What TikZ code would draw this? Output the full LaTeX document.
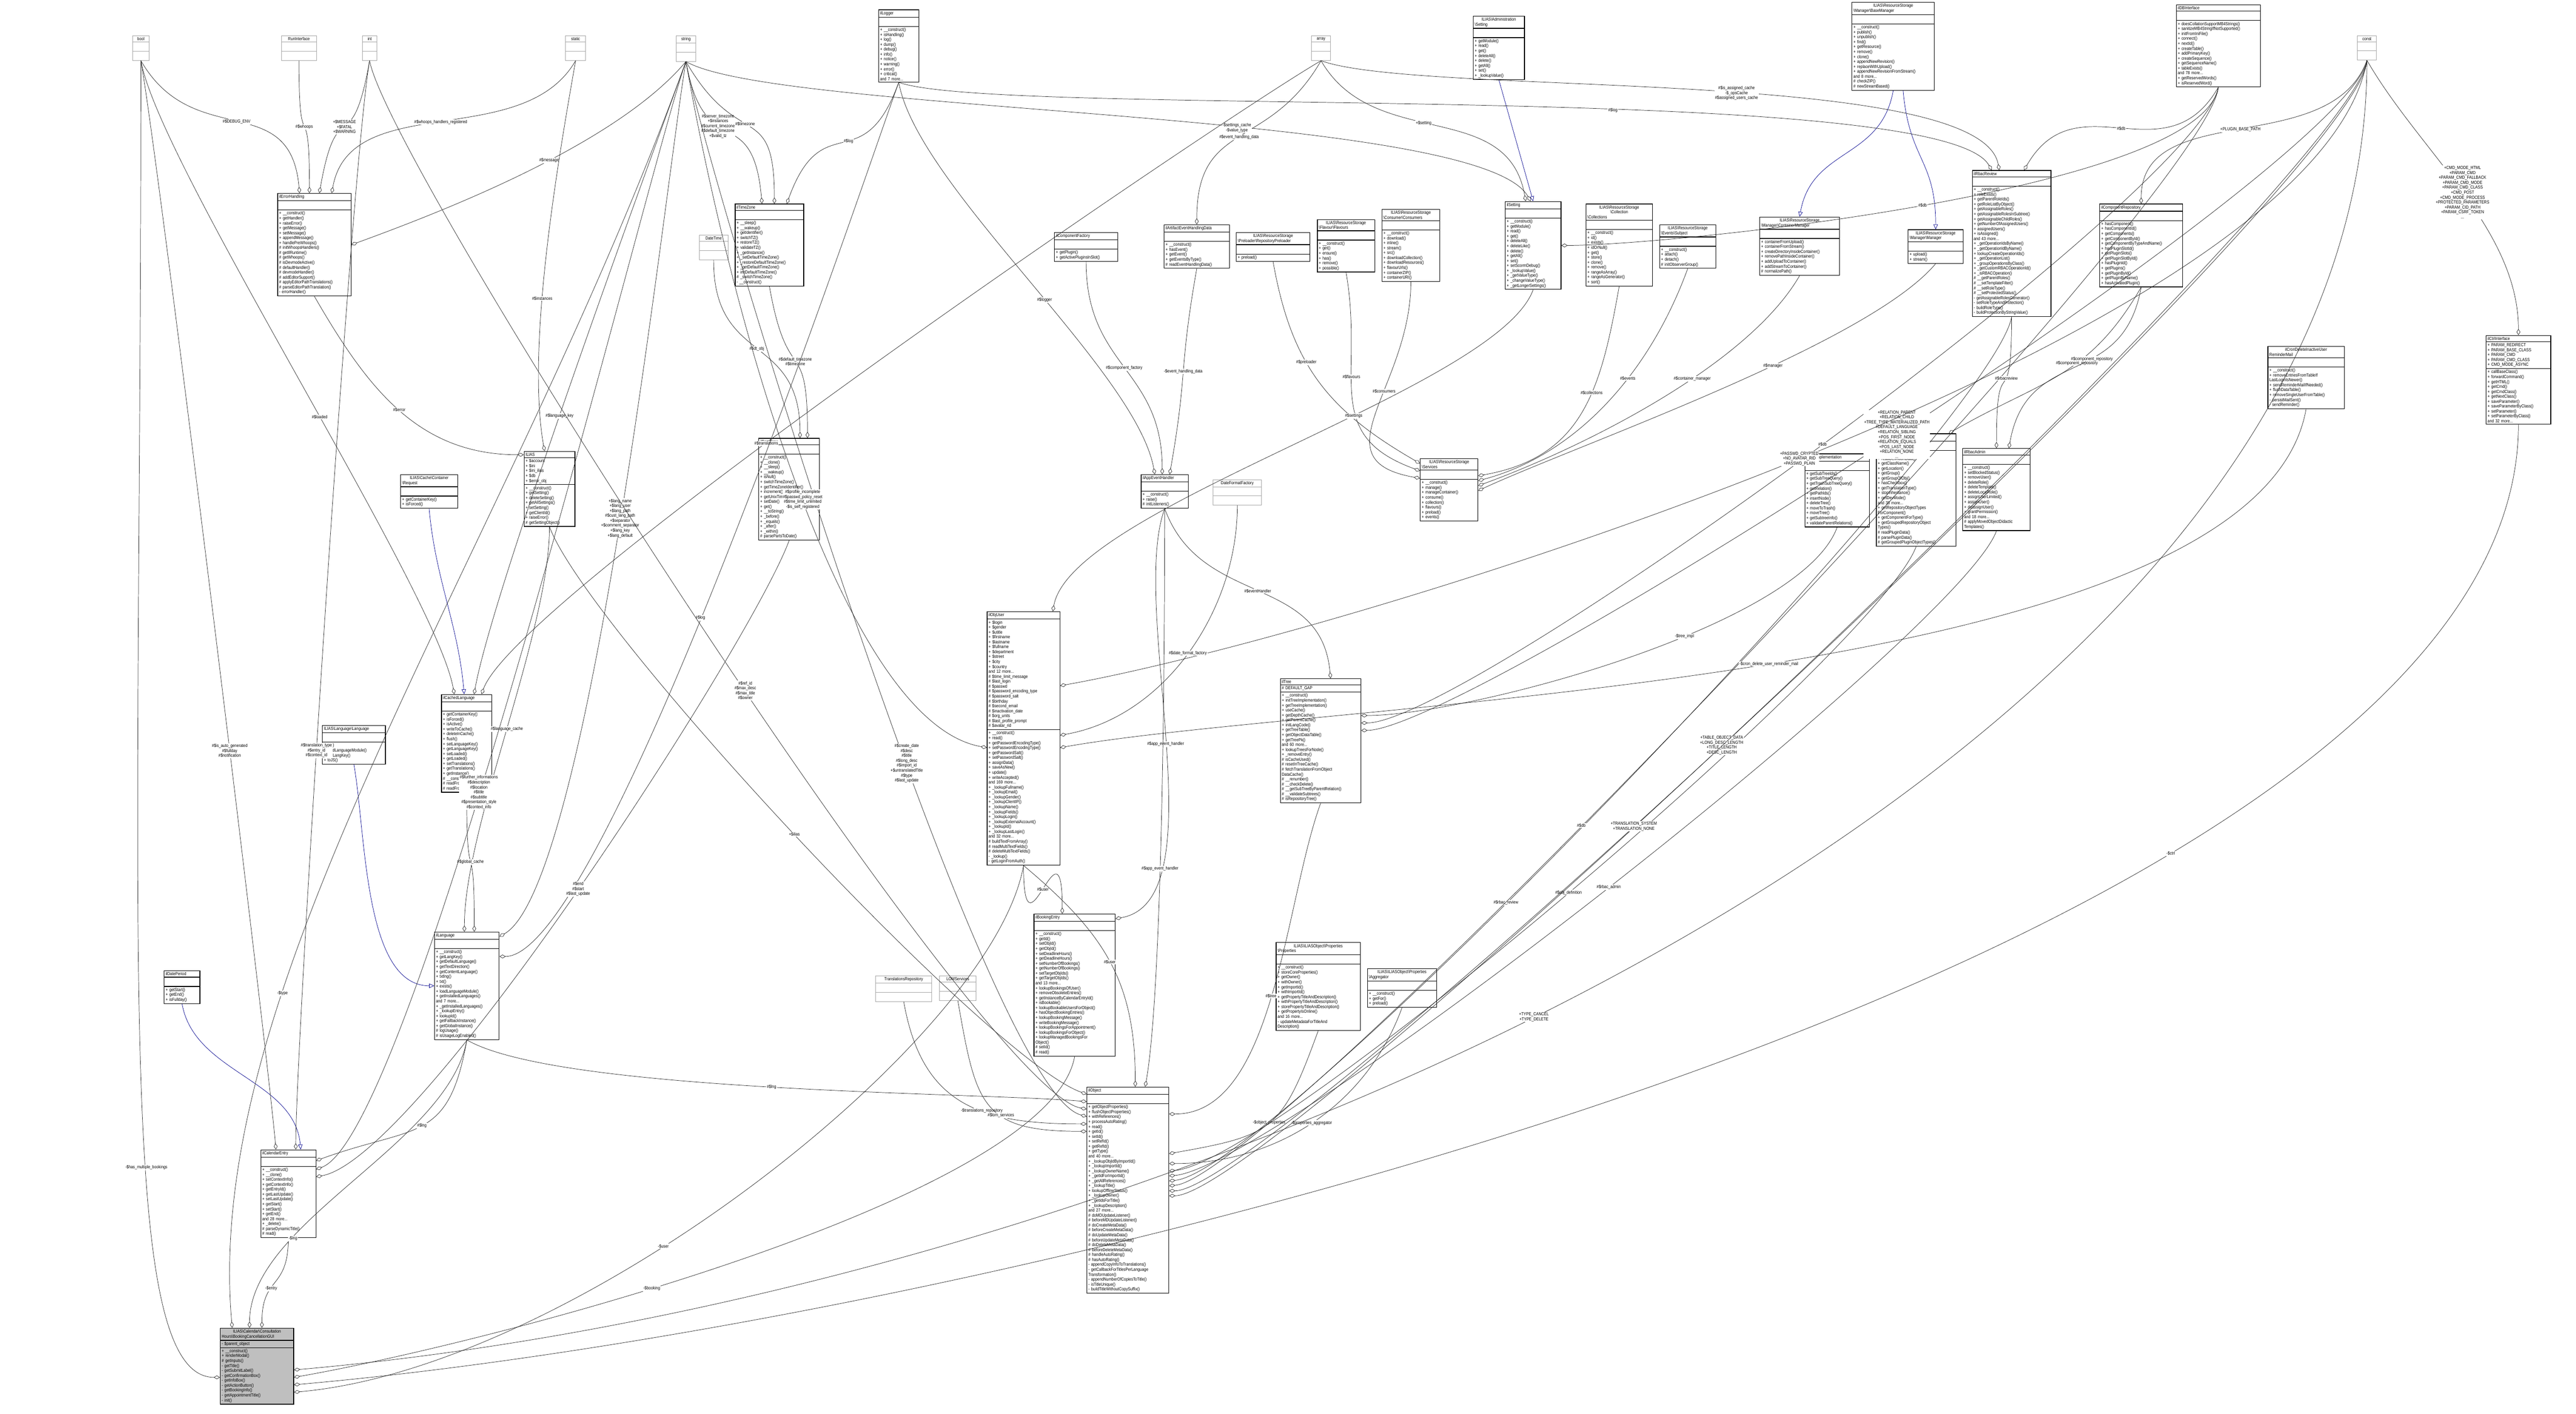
\documentclass[tikz,border=0pt]{standalone}
\usepackage{fontspec}
\setmainfont{Liberation Sans}[FakeStretch=0.85]
\usetikzlibrary{shapes.multipart,arrows.meta}
\newcommand\BS{\textbackslash}
\tikzset{
  cls/.style={rectangle split, rectangle split parts=3, draw=black, line width=0.5pt,
    anchor=north west, align=left, inner xsep=1.2pt, inner ysep=1pt,
    font=\fontsize{3.6}{3.98}\selectfont, fill=white},
  main/.style={cls, fill=black!25},
  typ/.style={rectangle split, rectangle split parts=3, draw=black!35, line width=0.4pt,
    anchor=north west, align=center, inner xsep=1pt, inner ysep=1pt,
    font=\fontsize{3.6}{3.98}\selectfont},
  agg/.style={draw=black!85, line width=0.3pt, -{Diamond[open,length=5pt,width=3pt]}, out distance=3cm, in distance=3cm},
  inh/.style={draw=blue!55!black, line width=0.3pt, -{Triangle[open,length=4pt,width=3.5pt]}, out distance=2cm, in distance=2cm},
  lbl/.style={font=\fontsize{3.6}{3.98}\selectfont, align=center, fill=white, inner sep=0.5pt}
}
\newcommand\E{\rule{0pt}{5pt}}
\begin{document}
\begin{tikzpicture}
\useasboundingbox (0,0) rectangle (73.09,-40.12);
% ---------- type boxes ----------
\node[typ, text width=0.41cm] (bool) at (3.75,-1.01) {bool\nodepart{second}\E\nodepart{third}\E};
\node[typ, text width=0.92cm] (run) at (7.98,-1.01) {RunInterface\nodepart{second}\E\nodepart{third}\E};
\node[typ, text width=0.35cm] (int) at (10.27,-1.01) {int\nodepart{second}\E\nodepart{third}\E};
\node[typ, text width=0.50cm] (static) at (16.04,-1.01) {static\nodepart{second}\E\nodepart{third}\E};
\node[typ, text width=0.48cm] (string) at (19.18,-1.01) {string\nodepart{second}\E\nodepart{third}\E};
\node[typ, text width=0.48cm] (array) at (37.20,-1.01) {array\nodepart{second}\E\nodepart{third}\E};
\node[typ, text width=0.47cm] (const) at (66.88,-1.01) {const\nodepart{second}\E\nodepart{third}\E};
\node[typ, text width=0.75cm] (dt) at (19.83,-6.67) {DateTime\nodepart{second}\E\nodepart{third}\E};
\node[typ, text width=1.31cm] (dff) at (34.41,-13.61) {DateFormatFactory\nodepart{second}\E\nodepart{third}\E};
\node[typ, text width=1.52cm] (trr) at (24.84,-27.69) {TranslationsRepository\nodepart{second}\E\nodepart{third}\E};
\node[typ, text width=0.97cm] (lom) at (26.65,-27.69) {LOMServices\nodepart{second}\E\nodepart{third}\E};
% ---------- classes ----------
\node[cls, text width=2.0cm] (err) at (7.87,-5.48) {\centering ilErrorHandling\nodepart{second}\E\nodepart{third}+ \_\_construct()\\+ getHandler()\\+ raiseError()\\+ getMessage()\\+ setMessage()\\+ appendMessage()\\+ handlePreWhoops()\\\# initWhoopsHandlers()\\\# getIlRuntime()\\\# getWhoops()\\\# isDevmodeActive()\\\# defaultHandler()\\\# devmodeHandler()\\\# addEditorSupport()\\\# applyEditorPathTranslations()\\\# parseEditorPathTranslation()\\- errorHandler()};
\node[cls, text width=1.86cm] (tz) at (20.85,-5.78) {\centering ilTimeZone\nodepart{second}\E\nodepart{third}+ \_\_sleep()\\+ \_\_wakeup()\\+ getIdentifier()\\+ switchTZ()\\+ restoreTZ()\\+ validateTZ()\\+ \_getInstance()\\+ \_setDefaultTimeZone()\\+ \_restoreDefaultTimeZone()\\+ \_getDefaultTimeZone()\\+ initDefaultTimeZone()\\\# \_switchTimeZone()\\- \_\_construct()};
\node[cls, text width=1.06cm] (logger) at (24.92,-0.27) {\centering ilLogger\nodepart{second}\E\nodepart{third}+ \_\_construct()\\+ isHandling()\\+ log()\\+ dump()\\+ debug()\\+ info()\\+ notice()\\+ warning()\\+ error()\\+ critical()\\and 7 more...};
\node[cls, text width=1.37cm] (admset) at (41.79,-0.45) {\centering ILIAS\BS Administration\\\BS Setting\nodepart{second}\E\nodepart{third}+ getModule()\\+ read()\\+ get()\\+ deleteAll()\\+ delete()\\+ getAll()\\+ set()\\+ \_lookupValue()};
\node[cls, text width=1.71cm] (cfac) at (29.91,-6.59) {\centering ilComponentFactory\nodepart{second}\E\nodepart{third}+ getPlugin()\\+ getActivePluginsInSlot()};
\node[cls, text width=1.77cm] (aehd) at (33.02,-6.37) {\centering ilArtifactEventHandlingData\nodepart{second}\E\nodepart{third}+ \_\_construct()\\+ hasEvent()\\+ getEvent()\\+ getEventsByType()\\\# readEventHandlingData()};
\node[cls, text width=2.0cm] (prel) at (35.07,-6.59) {\centering ILIAS\BS ResourceStorage\\\BS Preloader\BS RepositoryPreloader\nodepart{second}\E\nodepart{third}+ preload()};
\node[cls, text width=1.54cm] (flav) at (37.37,-6.22) {\centering ILIAS\BS ResourceStorage\\\BS Flavour\BS Flavours\nodepart{second}\E\nodepart{third}+ \_\_construct()\\+ get()\\+ ensure()\\+ has()\\+ remove()\\+ possible()};
\node[cls, text width=1.56cm] (cons) at (39.20,-5.93) {\centering ILIAS\BS ResourceStorage\\\BS Consumer\BS Consumers\nodepart{second}\E\nodepart{third}+ \_\_construct()\\+ download()\\+ inline()\\+ stream()\\+ src()\\+ downloadCollection()\\+ downloadResources()\\+ flavourUrls()\\+ containerZIP()\\+ containerURI()};
\node[cls, text width=1.50cm] (set) at (42.70,-5.71) {\centering ilSetting\nodepart{second}\E\nodepart{third}+ \_\_construct()\\+ getModule()\\+ read()\\+ get()\\+ deleteAll()\\+ deleteLike()\\+ delete()\\+ getAll()\\+ set()\\+ setScormDebug()\\+ \_lookupValue()\\+ \_getValueType()\\+ \_changeValueType()\\+ \_getLongerSettings()};
\node[cls, text width=1.80cm] (coll) at (44.99,-5.78) {\centering ILIAS\BS ResourceStorage\\\BS Collection\\\BS Collections\nodepart{second}\E\nodepart{third}+ \_\_construct()\\+ id()\\+ exists()\\+ idOrNull()\\+ get()\\+ store()\\+ clone()\\+ remove()\\+ rangeAsArray()\\+ rangeAsGenerator()\\+ sort()};
\node[cls, text width=1.51cm] (subj) at (47.08,-6.37) {\centering ILIAS\BS ResourceStorage\\\BS Events\BS Subject\nodepart{second}\E\nodepart{third}+ \_\_construct()\\+ attach()\\+ detach()\\\# initObserverGroup()};
\node[cls, text width=2.25cm] (base) at (52.54,-0.06) {\centering ILIAS\BS ResourceStorage\\\BS Manager\BS BaseManager\nodepart{second}\E\nodepart{third}+ \_\_construct()\\+ publish()\\+ unpublish()\\+ find()\\+ getResource()\\+ remove()\\+ clone()\\+ appendNewRevision()\\+ replaceWithUpload()\\+ appendNewRevisionFromStream()\\and 8 more...\\\# checkZIP()\\\# newStreamBased()};
\node[cls, text width=2.30cm] (db) at (61.74,-0.13) {\centering ilDBInterface\nodepart{second}\E\nodepart{third}+ doesCollationSupportMB4Strings()\\+ sanitizeMB4StringIfNotSupported()\\+ initFromIniFile()\\+ connect()\\+ nextId()\\+ createTable()\\+ addPrimaryKey()\\+ createSequence()\\+ getSequenceName()\\+ tableExists()\\and 78 more...\\+ getReservedWords()\\+ isReservedWord()};
\node[cls, text width=2.15cm] (rrev) at (55.95,-4.83) {\centering ilRbacReview\nodepart{second}\E\nodepart{third}+ \_\_construct()\\+ roleExists()\\+ getParentRoleIds()\\+ getRoleListByObject()\\+ getAssignableRoles()\\+ getAssignableRolesInSubtree()\\+ getAssignableChildRoles()\\+ getNumberOfAssignedUsers()\\+ assignedUsers()\\+ isAssigned()\\and 43 more...\\+ \_getOperationIdsByName()\\+ \_getOperationIdByName()\\+ lookupCreateOperationIds()\\+ \_getOperationList()\\+ \_groupOperationsByClass()\\+ \_getCustomRBACOperationId()\\+ \_isRBACOperation()\\\# \_\_getParentRoles()\\\# \_\_setTemplateFilter()\\\# \_\_setRoleType()\\\# \_\_setProtectedStatus()\\- getAssignableRolesGenerator()\\- setRoleTypeAndProtection()\\- buildRoleType()\\- buildProtectionByStringValue()};
\node[cls, text width=2.26cm] (crep) at (59.57,-5.78) {\centering ilComponentRepository\nodepart{second}\E\nodepart{third}+ hasComponent()\\+ hasComponentId()\\+ getComponents()\\+ getComponentById()\\+ getComponentByTypeAndName()\\+ hasPluginSlotId()\\+ getPluginSlots()\\+ getPluginSlotById()\\+ hasPluginId()\\+ getPlugins()\\+ getPluginById()\\+ getPluginByName()\\+ hasActivatedPlugin()};
\node[cls, text width=2.18cm] (cman) at (49.92,-6.15) {\centering ILIAS\BS ResourceStorage\\\BS Manager\BS ContainerManager\nodepart{second}\E\nodepart{third}+ containerFromUpload()\\+ containerFromStream()\\+ createDirectoryInsideContainer()\\+ removePathInsideContainer()\\+ addUploadToContainer()\\+ addStreamToContainer()\\\# normalizePath()};
\node[cls, text width=1.48cm] (man) at (54.13,-6.51) {\centering ILIAS\BS ResourceStorage\\\BS Manager\BS Manager\nodepart{second}\E\nodepart{third}+ upload()\\+ stream()};
\node[cls, text width=1.75cm] (ctrl) at (70.53,-9.51) {\centering ilCtrlInterface\nodepart{second}+ PARAM\_REDIRECT\\+ PARAM\_BASE\_CLASS\\+ PARAM\_CMD\\+ PARAM\_CMD\_CLASS\\+ CMD\_MODE\_ASYNC\nodepart{third}+ callBaseClass()\\+ forwardCommand()\\+ getHTML()\\+ getCmd()\\+ getCmdClass()\\+ getNextClass()\\+ saveParameter()\\+ saveParameterByClass()\\+ setParameter()\\+ setParameterByClass()\\and 32 more...};
\node[cls, text width=2.08cm] (rem) at (64.34,-9.82) {\centering ilCronDeleteInactiveUser\\ReminderMail\nodepart{second}\E\nodepart{third}+ \_\_construct()\\+ removeEntriesFromTableIf\\LastLoginIsNewer()\\+ sendReminderMailIfNeeded()\\+ flushDataTable()\\+ removeSingleUserFromTable()\\- persistMailSent()\\- sendReminder()};
\node[cls, text width=1.75cm] (timpl) at (51.20,-12.87) {\centering ilTreeImplementation\nodepart{second}\E\nodepart{third}+ getSubTreeIds()\\+ getSubTreeQuery()\\+ getTrashSubTreeQuery()\\+ getRelation()\\+ getPathIds()\\+ insertNode()\\+ deleteTree()\\+ moveToTrash()\\+ moveTree()\\+ getSubtreeInfo()\\+ validateParentRelations()};
\node[cls, text width=2.17cm] (odef) at (53.23,-12.30) {\centering ilObjectDefinition\nodepart{second}\E\nodepart{third}+ \_\_construct()\\+ readDefinitionData()\\+ getClassName()\\+ getLocation()\\+ getGroup()\\+ getGroupOfObj()\\+ hasCheckbox()\\+ getTranslationType()\\+ stopInheritance()\\+ getDevMode()\\and 38 more...\\+ getRepositoryObjectTypes\\ForComponent()\\+ getComponentForType()\\+ getGroupedRepositoryObject\\Types()\\\# readPluginData()\\\# parsePluginData()\\\# getGroupedPluginObjectTypes()};
\node[cls, text width=1.83cm] (radm) at (55.68,-12.72) {\centering ilRbacAdmin\nodepart{second}\E\nodepart{third}+ \_\_construct()\\+ setBlockedStatus()\\+ removeUser()\\+ deleteRole()\\+ deleteTemplate()\\+ deleteLocalRole()\\+ assignUserLimited()\\+ assignUser()\\+ deassignUser()\\+ grantPermission()\\and 18 more...\\\# applyMovedObjectDidactic\\Templates()};
\node[cls, text width=1.36cm] (ias) at (14.86,-12.80) {\centering ILIAS\nodepart{second}+ \$account\\+ \$ini\\+ \$ini\_ilias\\+ \$db\\+ \$error\_obj\nodepart{third}+ \_\_construct()\\+ getSetting()\\+ deleteSetting()\\+ getAllSettings()\\+ setSetting()\\+ getClientId()\\+ raiseError()\\\# getSettingObject()};
\node[cls, text width=1.53cm] (req) at (11.36,-13.46) {\centering ILIAS\BS Cache\BS Container\\\BS Request\nodepart{second}\E\nodepart{third}+ getContainerKey()\\+ isForced()};
\node[cls, text width=1.34cm] (cl) at (12.52,-19.70) {\centering ilCachedLanguage\nodepart{second}\E\nodepart{third}+ getContainerKey()\\+ isForced()\\+ isActive()\\+ writeToCache()\\+ deleteInCache()\\+ flush()\\+ setLanguageKey()\\+ getLanguageKey()\\+ setLoaded()\\+ getLoaded()\\+ setTranslations()\\+ getTranslations()\\+ getInstance()\\\# \_\_construct()\\\# readFromCache()\\\# readFromDB()};
\node[cls, text width=1.70cm] (llang) at (9.14,-20.58) {\centering ILIAS\BS Language\BS Language\nodepart{second}\E\nodepart{third}+ txt()\\+ loadLanguageModule()\\+ getLangKey()\\+ toJS()};
\node[cls, text width=1.64cm] (idt) at (21.52,-12.43) {\centering ilDateTime\nodepart{second}\E\nodepart{third}+ \_\_construct()\\+ \_\_clone()\\+ \_\_sleep()\\+ \_\_wakeup()\\+ isNull()\\+ switchTimeZone()\\+ getTimeZoneIdentifier()\\+ increment()\\+ getUnixTime()\\+ setDate()\\+ get()\\+ \_\_toString()\\+ \_before()\\+ \_equals()\\+ \_after()\\+ \_within()\\\# parsePartsToDate()};
\node[cls, text width=1.25cm] (aeh) at (32.37,-13.46) {\centering ilAppEventHandler\nodepart{second}\E\nodepart{third}+ \_\_construct()\\+ raise()\\\# initListeners()};
\node[cls, text width=1.55cm] (serv) at (40.29,-13.01) {\centering ILIAS\BS ResourceStorage\\\BS Services\nodepart{second}\E\nodepart{third}+ \_\_construct()\\+ manage()\\+ manageContainer()\\+ consume()\\+ collection()\\+ flavours()\\+ preload()\\+ events()};
\node[cls, text width=1.98cm] (user) at (28.00,-17.35) {\centering ilObjUser\nodepart{second}+ \$login\\+ \$gender\\+ \$utitle\\+ \$firstname\\+ \$lastname\\+ \$fullname\\+ \$department\\+ \$street\\+ \$city\\+ \$country\\and 12 more...\\\# \$time\_limit\_message\\\# \$last\_login\\\# \$passwd\\\# \$password\_encoding\_type\\\# \$password\_salt\\\# \$birthday\\\# \$second\_email\\\# \$inactivation\_date\\\# \$org\_units\\\# \$last\_profile\_prompt\\\# \$avatar\_rid\nodepart{third}+ \_\_construct()\\+ read()\\+ getPasswordEncodingType()\\+ setPasswordEncodingType()\\+ getPasswordSalt()\\+ setPasswordSalt()\\+ assignData()\\+ saveAsNew()\\+ update()\\+ writeAccepted()\\and 169 more...\\+ \_lookupFullname()\\+ \_lookupEmail()\\+ \_lookupGender()\\+ \_lookupClientIP()\\+ \_lookupName()\\+ \_lookupFields()\\+ \_lookupLogin()\\+ \_lookupExternalAccount()\\+ \_lookupId()\\+ \_lookupLastLogin()\\and 32 more...\\\# buildTextFromArray()\\\# readMultiTextFields()\\\# deleteMultiTextFields()\\- \_lookup()\\- getLoginFromAuth()};
\node[cls, text width=2.20cm] (tree) at (36.32,-19.25) {\centering ilTree\nodepart{second}\# DEFAULT\_GAP\nodepart{third}+ \_\_construct()\\+ initTreeImplementation()\\+ getTreeImplementation()\\+ useCache()\\+ getDepthCache()\\+ getParentCache()\\+ initLangCode()\\+ getTreeTable()\\+ getObjectDataTable()\\+ getTreePk()\\and 60 more...\\+ lookupTreesForNode()\\+ \_removeEntry()\\\# isCacheUsed()\\\# resetInTreeCache()\\\# fetchTranslationFromObject\\DataCache()\\\# \_\_renumber()\\\# \_\_checkDelete()\\\# \_\_getSubTreeByParentRelation()\\\# \_\_validateSubtrees()\\\# isRepositoryTree()};
\node[cls, text width=0.93cm] (dper) at (4.65,-27.54) {\centering ilDatePeriod\nodepart{second}\E\nodepart{third}+ getStart()\\+ getEnd()\\+ isFullday()};
\node[cls, text width=1.75cm] (lng) at (12.32,-26.44) {\centering ilLanguage\nodepart{second}\E\nodepart{third}+ \_\_construct()\\+ getLangKey()\\+ getDefaultLanguage()\\+ getTextDirection()\\+ getContentLanguage()\\+ txtlng()\\+ txt()\\+ exists()\\+ loadLanguageModule()\\+ getInstalledLanguages()\\and 7 more...\\+ \_getInstalledLanguages()\\+ \_lookupEntry()\\+ lookupId()\\+ getFallbackInstance()\\+ getGlobalInstance()\\\# logUsage()\\\# isUsageLogEnabled()};
\node[cls, text width=1.48cm] (cal) at (7.39,-32.62) {\centering ilCalendarEntry\nodepart{second}\E\nodepart{third}+ \_\_construct()\\+ \_\_clone()\\+ setContextInfo()\\+ getContextInfo()\\+ getEntryId()\\+ getLastUpdate()\\+ setLastUpdate()\\+ getStart()\\+ setStart()\\+ getEnd()\\and 28 more...\\+ \_delete()\\\# parseDynamicTitle()\\\# read()};
\node[main, text width=2.0cm] (gui) at (6.24,-37.68) {\centering ILIAS\BS Calendar\BS Consultation\\Hours\BS BookingCancellationGUI\nodepart{second}- \$parent\_object\nodepart{third}+ \_\_construct()\\+ renderModal()\\\# getInputs()\\- getTitle()\\- getSubmitLabel()\\- getConfirmationBox()\\- getInfoBox()\\- getActionButton()\\- getBookingInfo()\\- getAppointmentTitle()\\- init()};
\node[cls, text width=2.22cm] (book) at (29.33,-25.93) {\centering ilBookingEntry\nodepart{second}\E\nodepart{third}+ \_\_construct()\\+ getId()\\+ setObjId()\\+ getObjId()\\+ setDeadlineHours()\\+ getDeadlineHours()\\+ setNumberOfBookings()\\+ getNumberOfBookings()\\+ setTargetObjIds()\\+ getTargetObjIds()\\and 13 more...\\+ lookupBookingsOfUser()\\+ removeObsoleteEntries()\\+ getInstanceByCalendarEntryId()\\+ isBookable()\\+ lookupBookableUsersForObject()\\+ hasObjectBookingEntries()\\+ lookupBookingMessage()\\+ writeBookingMessage()\\+ lookupBookingsForAppointment()\\+ lookupBookingsForObject()\\+ lookupManagedBookingsFor\\Object()\\\# setId()\\\# read()};
\node[cls, text width=2.24cm] (obj) at (30.83,-30.84) {\centering ilObject\nodepart{second}\E\nodepart{third}+ getObjectProperties()\\+ flushObjectProperties()\\+ withReferences()\\+ processAutoRating()\\+ read()\\+ getId()\\+ setId()\\+ setRefId()\\+ getRefId()\\+ getType()\\and 40 more...\\+ \_lookupObjIdByImportId()\\+ \_lookupImportId()\\+ \_lookupOwnerName()\\+ \_getIdForImportId()\\+ \_getAllReferences()\\+ \_lookupTitle()\\+ lookupOfflineStatus()\\+ \_lookupOwner()\\+ \_getIdsForTitle()\\+ \_lookupDescription()\\and 27 more...\\\# doMDUpdateListener()\\\# beforeMDUpdateListener()\\\# doCreateMetaData()\\\# beforeCreateMetaData()\\\# doUpdateMetaData()\\\# beforeUpdateMetaData()\\\# doDeleteMetaData()\\\# beforeDeleteMetaData()\\\# handleAutoRating()\\\# hasAutoRating()\\- appendCopyInfoToTranslations()\\- getCallbackForTitlesPerLanguage\\Transformation()\\- appendNumberOfCopiesToTitle()\\- isTitleUnique()\\- buildTitleWithoutCopySuffix()};
\node[cls, text width=2.30cm] (prop) at (36.20,-26.74) {\centering ILIAS\BS ILIASObject\BS Properties\\\BS Properties\nodepart{second}\E\nodepart{third}+ \_\_construct()\\+ storeCoreProperties()\\+ getOwner()\\+ withOwner()\\+ getImportId()\\+ withImportId()\\+ getPropertyTitleAndDescription()\\+ withPropertyTitleAndDescription()\\+ storePropertyTitleAndDescription()\\+ getPropertyIsOnline()\\and 16 more...\\- updateMetadataForTitleAnd\\Description()};
\node[cls, text width=1.88cm] (aggr) at (38.79,-27.48) {\centering ILIAS\BS ILIASObject\BS Properties\\\BS Aggregator\nodepart{second}\E\nodepart{third}+ \_\_construct()\\+ getFor()\\+ preload()};
% ---------- inheritance ----------
\draw[inh] (admset.south) -- (set.north);
\draw[inh] (base.south) to[out=-100,in=80] (cman.north);
\draw[inh] ([xshift=8pt]base.south) to[out=-85,in=90] (man.north);
\draw[inh] (req.south) to[out=-85,in=95] ([xshift=-2pt]cl.north);
\draw[inh] (llang.south) to[out=-80,in=180] (lng.west);
\draw[inh] (dper.south) to[out=-80,in=95] ([xshift=10pt]cal.north);
% ---------- aggregations ----------
\draw[agg] (bool.south) to[out=-60,in=95] node[lbl,pos=.5]{\#\$DEBUG\_ENV} ([xshift=-12pt]err.north);
\draw[agg] (run.south) to[out=-90,in=90] node[lbl,pos=.5]{\#\$whoops} ([xshift=-4pt]err.north);
\draw[agg] (int.south) to[out=-100,in=80] node[lbl,pos=.5]{+\$MESSAGE\\+\$FATAL\\+\$WARNING} ([xshift=4pt]err.north);
\draw[agg] (static.south) to[out=-120,in=80] node[lbl,pos=.5]{\#\$whoops\_handlers\_registered} ([xshift=14pt]err.north);
\draw[agg] (string.south) to[out=-130,in=20] node[lbl,pos=.45]{\#\$message} (err.east);
\draw[agg] (string.south) to[out=-80,in=95] node[lbl,pos=.4]{\#\$server\_timezone\\+\$instances\\\#\$current\_timezone\\\#\$default\_timezone\\+\$valid\_tz} ([xshift=-6pt]tz.north);
\draw[agg] (string.south) to[out=-60,in=90] node[lbl,pos=.45]{\#\$timezone} ([xshift=4pt]tz.north);
\draw[agg] (logger.south) to[out=-110,in=70] node[lbl,pos=.45]{\#\$log} ([xshift=14pt]tz.north);
\draw[agg] (array.south) to[out=-60,in=100] node[lbl,pos=.45]{+\$setting} ([xshift=-6pt]set.north);
\draw[agg] (array.south) to[out=-120,in=90] node[lbl,pos=.5]{\#\$event\_handling\_data} (aehd.north);
\draw[agg] (string.south) to[out=-30,in=120] node[lbl,pos=.6]{-\$settings\_cache\\-\$value\_type} ([xshift=-2pt]set.north);
\draw[agg] (array.south) to[out=-20,in=100] node[lbl,pos=.55]{\#\$is\_assigned\_cache\\-\$\_opsCache\\\#\$assigned\_users\_cache} ([xshift=-10pt]rrev.north);
\draw[agg] (db.south) to[out=-120,in=60] node[lbl,pos=.5]{\#\$db} ([xshift=10pt]rrev.north);
\draw[agg] (logger.south) to[out=-20,in=120] node[lbl,pos=.6]{\#\$log} ([xshift=-16pt]rrev.north);
\draw[agg] (const.south) to[out=-110,in=90] node[lbl,pos=.5]{+PLUGIN\_BASE\_PATH} (crep.north);
\draw[agg] (const.south) to[out=-60,in=90] node[lbl,pos=.5]{+CMD\_MODE\_HTML\\+PARAM\_CMD\\+PARAM\_CMD\_FALLBACK\\+PARAM\_CMD\_MODE\\+PARAM\_CMD\_CLASS\\+CMD\_POST\\+CMD\_MODE\_PROCESS\\+PROTECTED\_PARAMETERS\\+PARAM\_CID\_PATH\\+PARAM\_CSRF\_TOKEN\\...} (ctrl.north);
\draw[agg] (logger.south) to[out=-80,in=100] node[lbl,pos=.55]{\#\$logger} ([xshift=-8pt]aeh.north);
\draw[agg] (cfac.south) to[out=-90,in=90] node[lbl,pos=.5]{\#\$component\_factory} ([xshift=-2pt]aeh.north);
\draw[agg] (aehd.south) to[out=-100,in=80] node[lbl,pos=.5]{-\$event\_handling\_data} ([xshift=4pt]aeh.north);
\draw[agg] (prel.south) to[out=-80,in=150] node[lbl,pos=.4]{\#\$preloader} ([yshift=-4pt]serv.north west);
\draw[agg] (flav.south) to[out=-80,in=160] node[lbl,pos=.4]{\#\$flavours} ([yshift=-10pt]serv.north west);
\draw[agg] (cons.south) to[out=-90,in=170] node[lbl,pos=.4]{\#\$consumers} ([yshift=-16pt]serv.north west);
\draw[agg] (coll.south) to[out=-100,in=10] node[lbl,pos=.4]{\#\$collections} ([yshift=-14pt]serv.north east);
\draw[agg] (set.south) to[out=-110,in=80] node[lbl,pos=.4]{\#\$settings} ([xshift=-6pt]user.north east);
\draw[agg] (subj.south) to[out=-110,in=15] node[lbl,pos=.4]{\#\$events} ([yshift=-18pt]serv.north east);
\draw[agg] (cman.south) to[out=-120,in=20] node[lbl,pos=.4]{\#\$container\_manager} ([yshift=-22pt]serv.north east);
\draw[agg] (man.south) to[out=-130,in=25] node[lbl,pos=.4]{\#\$manager} ([yshift=-26pt]serv.north east);
\draw[agg] (bool.south) to[out=-80,in=100] node[lbl,pos=.55]{\#\$loaded} ([xshift=-10pt]cl.north);
\draw[agg] (string.south) to[out=-110,in=80] node[lbl,pos=.55]{\#\$language\_key} ([xshift=6pt]cl.north);
\draw[agg] (array.south) to[out=-150,in=70] node[lbl,pos=.6]{\#\$translations} ([xshift=12pt]cl.north);
\draw[agg] (static.south) to[out=-100,in=100] node[lbl,pos=.6]{\#\$instances} ([xshift=-4pt]ias.north);
\draw[agg] (err.south) to[out=-60,in=180] node[lbl,pos=.5]{\#\$error} ([yshift=-3pt]ias.north west);
\draw[agg] (tz.south) to[out=-80,in=90] node[lbl,pos=.5]{\#\$default\_timezone\\\#\$timezone} ([xshift=-10pt]idt.north east);
\draw[agg] (dt.south) to[out=-90,in=90] node[lbl,pos=.5]{\#\$dt\_obj} ([xshift=-16pt]idt.north east);
\draw[agg] (ias.south) to[out=-90,in=90] node[lbl,pos=.5]{\#\$language\_cache} ([xshift=-2pt]lng.north);
\draw[agg] (cl.south) to[out=-90,in=90] node[lbl,pos=.5]{\#\$global\_cache} ([xshift=6pt]lng.north);
\draw[agg] (string.south) to[out=-100,in=30] node[lbl,pos=.5]{+\$lang\_name\\+\$lang\_user\\+\$lang\_path\\\#\$cust\_lang\_path\\+\$separator\\+\$comment\_separator\\+\$lang\_key\\+\$lang\_default} ([yshift=-4pt]lng.north east);
\draw[agg] (logger.south) to[out=-110,in=0] node[lbl,pos=.55]{\#\$log} ([yshift=-20pt]lng.north east);
\draw[agg] (bool.south) to[out=-80,in=95] node[lbl,pos=.6]{\#\$is\_auto\_generated\\\#\$fullday\\\#\$notification} ([xshift=-10pt]cal.north);
\draw[agg] (int.south) to[out=-100,in=90] node[lbl,pos=.6]{\#\$translation\_type\\\#\$entry\_id\\\#\$context\_id} ([xshift=6pt]cal.north);
\draw[agg] (string.south) to[out=-110,in=20] node[lbl,pos=.6]{\#\$further\_informations\\\#\$description\\\#\$location\\\#\$title\\\#\$subtitle\\\#\$presentation\_style\\\#\$context\_info} ([yshift=-16pt]cal.north east);
\draw[agg] (idt.south) to[out=-110,in=10] node[lbl,pos=.5]{\#\$end\\\#\$start\\\#\$last\_update} ([yshift=-22pt]cal.north east);
\draw[agg] (lng.south) to[out=-100,in=20] node[lbl,pos=.5]{\#\$lng} ([yshift=-9pt]cal.north east);
\draw[agg] (ias.south) to[out=-70,in=160] node[lbl,pos=.5]{+\$ilias} ([yshift=-6pt]obj.north west);
\draw[agg] (lng.south) to[out=-30,in=175] node[lbl,pos=.5]{\#\$lng} ([yshift=-12pt]obj.north west);
\draw[agg] (int.south) to[out=-80,in=170] node[lbl,pos=.55]{\#\$ref\_id\\\#\$max\_desc\\\#\$max\_title\\\#\$owner} ([yshift=-18pt]obj.north west);
\draw[agg] (string.south) to[out=-80,in=165] node[lbl,pos=.6]{\#\$create\_date\\\#\$desc\\\#\$title\\\#\$long\_desc\\\#\$import\_id\\+\$untranslatedTitle\\\#\$type\\\#\$last\_update} ([yshift=-24pt]obj.north west);
\draw[agg] (trr.south) to[out=-80,in=180] node[lbl,pos=.6]{-\$translations\_repository} ([yshift=-30pt]obj.north west);
\draw[agg] (lom.south) to[out=-80,in=180] node[lbl,pos=.6]{\#\$lom\_services} ([yshift=-36pt]obj.north west);
\draw[agg] (user.south) to[out=-90,in=90] node[lbl,pos=.5]{\#\$user} ([xshift=-10pt]book.north);
\draw[agg] (user.south) to[out=-40,in=90] node[lbl,pos=.5]{\#\$user} ([xshift=6pt]obj.north);
\draw[agg] (aeh.south) to[out=-110,in=10] node[lbl,pos=.5]{\#\$app\_event\_handler} ([yshift=-4pt]book.north east);
\draw[agg] (aeh.south) to[out=-90,in=80] node[lbl,pos=.6]{\#\$app\_event\_handler} ([xshift=14pt]obj.north);
\draw[agg] (tree.south) to[out=-110,in=0] node[lbl,pos=.5]{\#\$tree} ([yshift=-22pt]obj.north east);
\draw[agg] (prop.south) to[out=-110,in=10] node[lbl,pos=.5]{-\$object\_properties} ([yshift=-54pt]obj.north east);
\draw[agg] (aggr.south) to[out=-110,in=0] node[lbl,pos=.5]{-\$properties\_aggregator} ([yshift=-62pt]obj.north east);
\draw[agg] (odef.south) to[out=-110,in=5] node[lbl,pos=.5]{\#\$obj\_definition} ([yshift=-68pt]obj.north east);
\draw[agg] (radm.south) to[out=-110,in=5] node[lbl,pos=.5]{\#\$rbac\_admin} ([yshift=-72pt]obj.north east);
\draw[agg] (rrev.south) to[out=-100,in=5] node[lbl,pos=.6]{\#\$rbac\_review} ([yshift=-76pt]obj.north east);
\draw[agg] (db.south) to[out=-95,in=5] node[lbl,pos=.6]{\#\$db} ([yshift=-80pt]obj.north east);
\draw[agg] (const.south) to[out=-90,in=0] node[lbl,pos=.55]{+TABLE\_OBJECT\_DATA\\+LONG\_DESC\_LENGTH\\+TITLE\_LENGTH\\+DESC\_LENGTH} ([yshift=-84pt]obj.north east);
\draw[agg] (const.south) to[out=-95,in=0] node[lbl,pos=.6]{+TRANSLATION\_SYSTEM\\+TRANSLATION\_NONE} ([yshift=-88pt]obj.north east);
\draw[agg] (timpl.south) to[out=-110,in=0] node[lbl,pos=.4]{-\$tree\_impl} ([yshift=-30pt]tree.north east);
\draw[agg] (db.south) to[out=-100,in=0] node[lbl,pos=.5]{\#\$db} ([yshift=-36pt]tree.north east);
\draw[agg] (const.south) to[out=-100,in=0] node[lbl,pos=.5]{+RELATION\_PARENT\\+RELATION\_CHILD\\+TREE\_TYPE\_MATERIALIZED\_PATH\\\#DEFAULT\_LANGUAGE\\+RELATION\_SIBLING\\+POS\_FIRST\_NODE\\+RELATION\_EQUALS\\+POS\_LAST\_NODE\\+RELATION\_NONE\\...} ([yshift=-42pt]tree.north east);
\draw[agg] (aeh.south) to[out=-70,in=95] node[lbl,pos=.5]{\#\$eventHandler} ([xshift=8pt]tree.north);
\draw[agg] (crep.south) to[out=-120,in=30] node[lbl,pos=.4]{\#\$component\_repository} ([xshift=-6pt]odef.north east);
\draw[agg] (crep.south) to[out=-100,in=80] node[lbl,pos=.4]{\#\$component\_repository} ([xshift=10pt]radm.north);
\draw[agg] (rrev.south) to[out=-90,in=90] node[lbl,pos=.4]{\#\$rbacreview} (radm.north);
\draw[agg] (db.south) to[out=-100,in=0] node[lbl,pos=.5]{\#\$db} (set.east);
\coordinate (uA) at ([yshift=-60pt]user.north east);
\draw[agg] (const.south) .. controls +(-100:8) and +(10:8) .. node[lbl,pos=.5]{+PASSWD\_CRYPTED\\+NO\_AVATAR\_RID\\+PASSWD\_PLAIN} (uA);
\coordinate (uB) at ([yshift=-100pt]user.north east);
\draw[agg] (dff.south) .. controls +(-90:3) and +(10:3) .. node[lbl,pos=.5]{\#\$date\_format\_factory} (uB);
\coordinate (uC) at ([yshift=-110pt]user.north east);
\draw[agg] (rem.south) .. controls +(-100:8) and +(10:8) .. node[lbl,pos=.5]{-\$cron\_delete\_user\_reminder\_mail} (uC);
\coordinate (uD) at ([yshift=-110pt]user.north west);
\draw[agg] (string.south) .. controls +(-80:8) and +(170:4) .. node[lbl,pos=.5]{\#\$profile\_incomplete\\\#\$passwd\_policy\_reset\\\#\$time\_limit\_unlimited\\-\$is\_self\_registered} (uD);
\draw[agg] (cal.south) .. controls +(-90:1.5) and +(90:1.5) .. node[lbl,pos=.6]{-\$entry} ([xshift=4pt]gui.north);
\coordinate (gA) at ([yshift=-40pt]gui.north east);
\coordinate (gB) at ([yshift=-46pt]gui.north east);
\coordinate (gC) at ([yshift=-52pt]gui.north east);
\coordinate (gD) at ([yshift=-34pt]gui.north east);
\coordinate (gE) at ([yshift=-40pt]gui.north west);
\draw[agg] (book.south) .. controls +(-100:4) and +(10:6) .. node[lbl,pos=.6]{-\$booking} (gA);
\draw[agg] (lng.south) .. controls +(-100:3) and +(90:3) .. node[lbl,pos=.7]{-\$lng} ([xshift=-6pt]gui.north);
\draw[agg] (ctrl.south) .. controls +(-90:15) and +(5:20) .. node[lbl,pos=.3]{-\$ctrl} (gB);
\draw[agg] (user.south) .. controls +(-100:5) and +(5:8) .. node[lbl,pos=.6]{-\$user} (gC);
\draw[agg] (bool.south) .. controls +(-90:25) and +(180:3) .. node[lbl,pos=.6]{-\$has\_multiple\_bookings} (gE);
\draw[agg] (string.south) .. controls +(-110:15) and +(95:10) .. node[lbl,pos=.7]{-\$type} ([xshift=-20pt]gui.north);
\draw[agg] (const.south) .. controls +(-90:20) and +(5:25) .. node[lbl,pos=.55]{+TYPE\_CANCEL\\+TYPE\_DELETE} (gD);
\end{tikzpicture}
\end{document}
